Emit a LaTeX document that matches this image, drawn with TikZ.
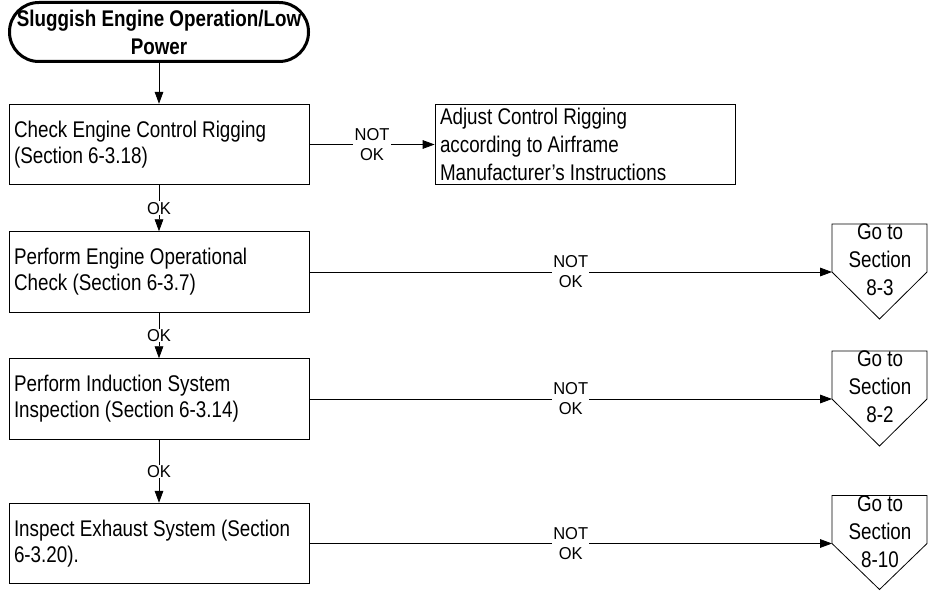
\documentclass[tikz,border=0pt]{standalone}
\usepackage{fontspec}
\setmainfont{Liberation Sans}[FakeStretch=0.83]
\newfontfamily\lblfamily{Liberation Sans}[FakeStretch=0.96]
\usetikzlibrary{arrows.meta}

\newcommand{\boxfont}{\fontsize{17pt}{19.5pt}\selectfont}
\newcommand{\tallfont}{\fontsize{17pt}{21pt}\selectfont}
\newcommand{\lblfont}{\lblfamily\fontsize{12.9pt}{15pt}\selectfont}

\tikzset{
  actbox/.style={draw, line width=0.6pt, minimum width=225pt, minimum height=60.5pt,
    text width=217.5pt, inner xsep=3.75pt, inner ysep=0pt, align=flush left, font=\boxfont},
  flow/.style={line width=0.6pt, -{Triangle[length=9pt, width=6.5pt]}},
  lbl/.style={fill=white, inner xsep=1pt, inner ysep=0.5pt, align=center, font=\lblfont},
  gotext/.style={align=center, font=\tallfont, inner sep=0pt},
  offpage/.style={line width=0.6pt},
}

\begin{document}
\begin{tikzpicture}[x=0.75pt, y=-0.75pt]
    \useasboundingbox (0,0) rectangle (934,592);
    % Start terminal
    \node [draw, line width=2.25pt, rounded corners=22pt, minimum width=224.25pt,
      minimum height=44.25pt, text width=222pt, inner sep=0pt, align=flush center,
      font=\bfseries\tallfont] (start) at (159,32) {Sluggish Engine Operation/Low\\Power};
    % Checks
    \node [actbox] (rig) at (159,144.5) {Check Engine Control Rigging\\(Section 6-3.18)};
    \node [actbox, font=\tallfont] (adjust) at (585,144.5) {Adjust Control Rigging\\according to Airframe\\Manufacturer’s Instructions};
    \node [actbox] (oper) at (159,272) {Perform Engine Operational\\Check (Section 6-3.7)};
    \node [actbox] (induct) at (159,399) {Perform Induction System\\Inspection (Section 6-3.14)};
    \node [actbox] (exhaust) at (159,543.5) {Inspect Exhaust System (Section\\6-3.20).};
    % Off-page connectors
    \draw [offpage] (832,224) -- (927,224) -- (927,272) -- (879.5,319) -- (832,272) -- cycle;
    \coordinate (inA) at (832,272);
    \node [gotext] (goA) at (880,260) {Go to\\Section\\8-3};
    \draw [offpage] (832,351) -- (927,351) -- (927,399) -- (879.5,446) -- (832,399) -- cycle;
    \coordinate (inB) at (832,399);
    \node [gotext] (goB) at (880,387) {Go to\\Section\\8-2};
    \draw [offpage] (832,495.5) -- (927,495.5) -- (927,543.5) -- (879.5,589.5) -- (832,543.5) -- cycle;
    \coordinate (inC) at (832,543.5);
    \node [gotext] (goC) at (880,531.5) {Go to\\Section\\8-10};
    % Connectors
    \draw [flow] (start) -- (rig);
    \draw [flow] (rig) -- node [lbl] {NOT\\OK} (adjust);
    \draw [flow] (rig) -- node [lbl] {OK} (oper);
    \draw [flow] (oper) -- node [lbl] {NOT\\OK} (inA);
    \draw [flow] (oper) -- node [lbl] {OK} (induct);
    \draw [flow] (induct) -- node [lbl] {NOT\\OK} (inB);
    \draw [flow] (induct) -- node [lbl] {OK} (exhaust);
    \draw [flow] (exhaust) -- node [lbl] {NOT\\OK} (inC);
\end{tikzpicture}
\end{document}
